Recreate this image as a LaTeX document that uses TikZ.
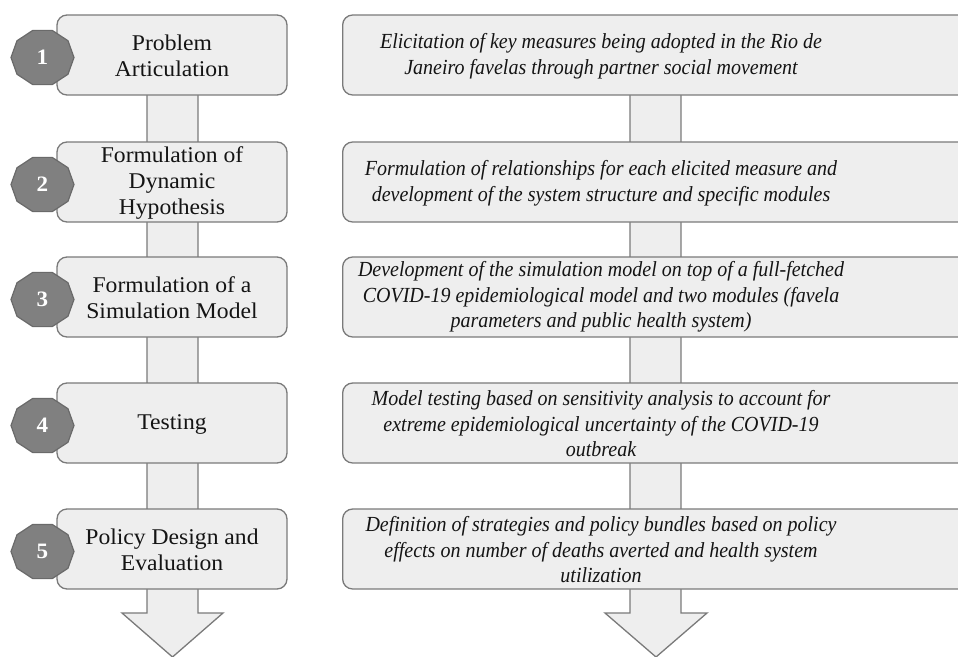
\documentclass[tikz,border=0pt]{standalone}
\usepackage{fontspec}
\setmainfont[FakeStretch=1.05]{Liberation Serif}
\newfontfamily\descfont[FakeStretch=0.93]{Liberation Serif}
\definecolor{boxfill}{HTML}{EEEEEE}
\definecolor{edgegray}{HTML}{7A7A7A}
\definecolor{badgefill}{HTML}{808080}
\definecolor{badgeedge}{HTML}{6A6A6A}
\definecolor{inkc}{HTML}{141414}
\newcommand\stagebadge[4]{%
  \draw[badgepoly,shift={(#2,#3)}] (0:31.5 and 28.5)
    \foreach \a in {36,72,...,324}{ -- (\a:31.5 and 28.5)} -- cycle;
  \node[badgetxt] (#1) at (#2,#3) {#4};}
\begin{document}
\begin{tikzpicture}[x=1pt,y=-1pt,
  stagebox/.style={draw=edgegray, fill=boxfill, line width=1.3pt, rounded corners=10pt,
    minimum width=230pt, minimum height=80pt, inner sep=0pt},
  descbox/.style={draw=edgegray, fill=boxfill, line width=1.3pt, rounded corners=10pt,
    minimum width=680pt, minimum height=80pt, inner sep=0pt, anchor=west},
  stagetxt/.style={align=center, text=inkc, font=\fontsize{22.5}{26}\selectfont, inner sep=0pt},
  desctxt/.style={align=center, text=inkc, font=\descfont\fontsize{21.5}{25.5}\selectfont\itshape, inner sep=0pt},
  flowarrow/.style={draw=edgegray, fill=boxfill, line width=1.3pt, line join=miter},
  badgepoly/.style={draw=badgeedge, fill=badgefill, line width=1.2pt},
  badgetxt/.style={text=white, font=\fontsize{22}{26}\selectfont\bfseries, inner sep=0pt}
]
\path[use as bounding box, clip] (0,0) rectangle (958,656);

% big background arrows
\draw[flowarrow] (147,60) -- (147,613) -- (122,613) -- (172.5,657) -- (223,613) -- (198,613) -- (198,60) -- cycle;
\draw[flowarrow] (630,60) -- (630,613) -- (605,613) -- (656,657) -- (707,613) -- (681,613) -- (681,60) -- cycle;

% left stage boxes
\node[stagebox] (s1) at (172,55) {};
\node[stagebox] (s2) at (172,182) {};
\node[stagebox] (s3) at (172,297) {};
\node[stagebox] (s4) at (172,423) {};
\node[stagebox] (s5) at (172,549) {};
\node[stagetxt] (t1) at ([yshift=-1pt]s1.center) {Problem\\Articulation};
\node[stagetxt] (t2) at ([yshift=-1pt]s2.center) {Formulation of\\Dynamic\\Hypothesis};
\node[stagetxt] (t3) at ([yshift=-1pt]s3.center) {Formulation of a\\Simulation Model};
\node[stagetxt] (t4) at ([yshift=-1pt]s4.center) {Testing};
\node[stagetxt] (t5) at ([yshift=-1pt]s5.center) {Policy Design and\\Evaluation};

% right description boxes
\node[descbox] (d1) at (342,55) {};
\node[descbox] (d2) at (342,182) {};
\node[descbox] (d3) at (342,297) {};
\node[descbox] (d4) at (342,423) {};
\node[descbox] (d5) at (342,549) {};
\node[desctxt] (e1) at (601,56) {Elicitation of key measures being adopted in the Rio de\\Janeiro favelas through partner social movement};
\node[desctxt] (e2) at (601,183) {Formulation of relationships for each elicited measure and\\development of the system structure and specific modules};
\node[desctxt] (e3) at (601,297) {Development of the simulation model on top of a full-fetched\\COVID-19 epidemiological model and two modules (favela\\parameters and public health system)};
\node[desctxt] (e4) at (601,424) {Model testing based on sensitivity analysis to account for\\extreme epidemiological uncertainty of the COVID-19\\outbreak};
\node[desctxt] (e5) at (601,550) {Definition of strategies and policy bundles based on policy\\effects on number of deaths averted and health system\\utilization};

% number badges
\stagebadge{b1}{42.5}{57.5}{1}
\stagebadge{b2}{42.5}{184.5}{2}
\stagebadge{b3}{42.5}{299.5}{3}
\stagebadge{b4}{42.5}{425.5}{4}
\stagebadge{b5}{42.5}{551.5}{5}
\end{tikzpicture}
\end{document}
